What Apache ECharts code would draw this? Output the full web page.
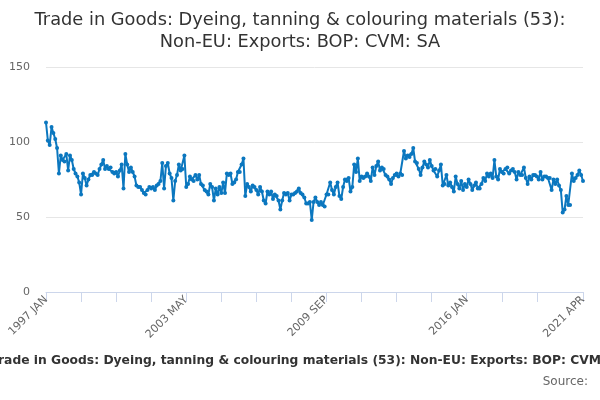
<!DOCTYPE html>
<html>
<head>
<meta charset="utf-8">
<script src="https://cdn.jsdelivr.net/npm/echarts@6/dist/echarts.min.js"></script>
<style>
html,body{margin:0;padding:0;background:#fff;}
#chart{width:600px;height:400px;}
</style>
</head>
<body>
<div id="chart"></div>
<script>
var titleText = 'Trade in Goods: Dyeing, tanning & colouring materials (53):\nNon-EU: Exports: BOP: CVM: SA';
var captionText = 'Trade in Goods: Dyeing, tanning & colouring materials (53): Non-EU: Exports: BOP: CVM: SA';
var sourceText = 'Source:';
var monthNames = ['JAN','FEB','MAR','APR','MAY','JUN','JUL','AUG','SEP','OCT','NOV','DEC'];
var startYear = 1997;
var yTicks = [0, 50, 100, 150];

var values = [
113,101,98,110,106,102,96,79,91,88,87,92,
81,91,88,82,79,77,73,65,79,76,71,75,
78,78,80,79,78,82,85,88,82,84,82,83,
80,79,80,77,81,85,69,92,85,80,83,80,
77,71,70,70,68,66,65,68,70,69,70,68,
71,72,74,86,69,84,86,79,76,61,74,78,
85,81,82,91,70,72,77,75,74,78,75,78,
72,71,68,67,65,72,70,61,69,65,70,66,
73,66,79,78,79,72,73,75,80,80,85,89,
64,72,70,67,71,70,68,65,70,67,61,59,
67,65,67,62,65,64,61,55,61,66,65,66,
61,65,65,66,67,69,66,65,63,59,59,60,
48,60,63,60,58,60,58,57,65,65,73,68,
65,70,73,64,62,70,75,74,76,67,70,85,
80,89,74,77,76,77,79,77,74,83,78,84,
87,81,83,82,78,77,75,72,76,78,79,77,
79,78,94,89,91,90,92,96,87,86,82,78,
83,87,85,83,88,84,81,82,77,81,85,71,
72,78,71,73,70,67,77,72,69,74,68,72,
70,75,72,68,71,73,69,69,72,76,74,79,
77,79,76,88,77,75,82,80,79,82,83,79,
81,82,80,75,80,78,78,83,76,72,77,75,
78,78,77,75,80,75,77,77,76,76,68,75,
72,75,71,68,53,55,64,58,58,79,74,76,
78,81,78,74
];

var categories = [];
for (var k = 0; k < values.length; k++) {
  categories.push((startYear + Math.floor(k / 12)) + ' ' + monthNames[k % 12]);
}
var lastIdx = categories.length - 1;

var chart = echarts.init(document.getElementById('chart'), null, {renderer: 'canvas'});
chart.setOption({
  backgroundColor: '#ffffff',
  animation: false,
  title: {
    text: titleText,
    left: 'center',
    top: 4,
    textStyle: {
      fontFamily: 'DejaVu Sans',
      fontSize: 17.8,
      fontWeight: 'normal',
      color: '#333333',
      lineHeight: 22
    }
  },
  grid: {left: 46, right: 17, top: 67, bottom: 108, containLabel: false},
  xAxis: {
    type: 'category',
    data: categories,
    boundaryGap: false,
    axisLine: {show: true, lineStyle: {color: '#ccd6eb', width: 1}},
    axisTick: {
      show: true,
      length: 10,
      lineStyle: {color: '#ccd6eb'},
      interval: function (idx) { return (idx % 19 === 0 && idx <= 266) || idx === lastIdx; }
    },
    axisLabel: {
      rotate: 45,
      fontFamily: 'DejaVu Sans',
      fontSize: 11,
      color: '#666666',
      margin: 6,
      interval: function (idx) { return idx % 76 === 0 || idx === lastIdx; }
    },
    splitLine: {show: false}
  },
  yAxis: {
    type: 'value',
    min: yTicks[0],
    max: yTicks[yTicks.length - 1],
    interval: 50,
    axisLine: {show: false},
    axisTick: {show: false},
    axisLabel: {fontFamily: 'DejaVu Sans', fontSize: 11, color: '#666666', margin: 16},
    splitLine: {lineStyle: {color: '#e6e6e6', width: 1}}
  },
  series: [{
    type: 'line',
    data: values,
    showSymbol: true,
    showAllSymbol: true,
    symbol: 'circle',
    symbolSize: 4,
    lineStyle: {color: '#0b77bf', width: 2},
    itemStyle: {color: '#0b77bf'}
  }],
  graphic: [
    {
      type: 'text',
      left: -9,
      top: 355,
      style: {
        text: captionText,
        font: 'bold 12.3px "DejaVu Sans"',
        fill: '#333333'
      }
    },
    {
      type: 'text',
      right: 12,
      top: 376,
      style: {
        text: sourceText,
        font: '12px "DejaVu Sans"',
        fill: '#666666'
      }
    }
  ]
});
</script>
</body>
</html>
